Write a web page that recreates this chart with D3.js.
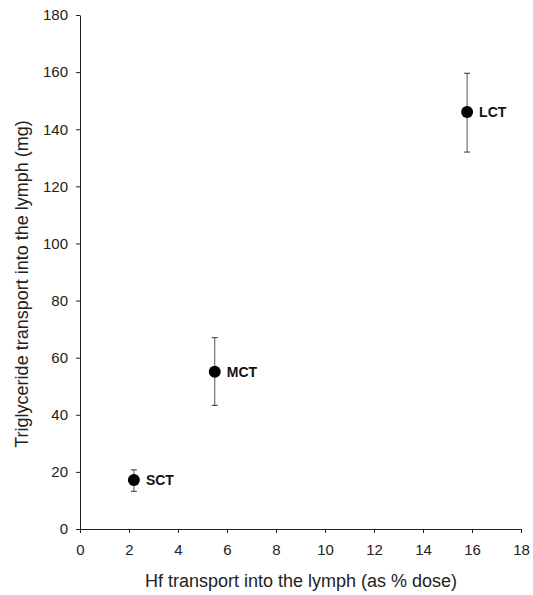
<!DOCTYPE html>
<html lang="en">
<head>
<meta charset="UTF-8">
<title>Triglyceride vs Hf transport</title>
<script src="https://d3js.org/d3.v7.min.js"></script>
<style>
 body {margin: 0; padding: 0; background: #fff;}
 svg {display: block; font-family: "Liberation Sans", Arial, sans-serif;}
 .axis path, .axis line {stroke: #222; stroke-width: 1px;}
 .axis text {font-size: 15px; fill: #222;}
 .label {font-size: 14px; font-weight: bold; fill: #111;}
 .title {font-size: 18px; fill: #222;}
</style>
</head>
<body>
<svg id="chart" width="533" height="595"></svg>
<script>
// values
const groups = ['SCT', 'MCT', 'LCT'];
const hfDose = [2.2, 5.5, 15.8];
const tgMean = [17.2, 55.1, 146];
const tgLow = [13.2, 43.3, 132];
const tgHigh = [20.7, 67, 159.6];
const xTicks = [0, 2, 4, 6, 8, 10, 12, 14, 16, 18];
const yTicks = [0, 20, 40, 60, 80, 100, 120, 140, 160, 180];

const svg = d3.select('#chart');
const x = d3.scaleLinear().domain([0, 18]).range([80, 521]);
const y = d3.scaleLinear().domain([0, 180]).range([529, 15]);

svg.append('g').attr('class', 'axis')
  .attr('transform', 'translate(0,529)')
  .call(d3.axisBottom(x).tickValues(xTicks).tickSize(4).tickSizeOuter(0).tickPadding(11));

svg.append('g').attr('class', 'axis')
  .attr('transform', 'translate(80,0)')
  .call(d3.axisLeft(y).tickValues(yTicks).tickSize(4).tickSizeOuter(0).tickPadding(8));

const pts = groups.map((g, i) => ({g, x: hfDose[i], y: tgMean[i], lo: tgLow[i], hi: tgHigh[i]}));

const pt = svg.append('g').selectAll('g').data(pts).enter().append('g');
pt.append('line')
  .attr('x1', d => x(d.x)).attr('x2', d => x(d.x))
  .attr('y1', d => y(d.lo)).attr('y2', d => y(d.hi))
  .attr('stroke', '#555').attr('stroke-width', 1);
pt.selectAll('.cap').data(d => [d.lo, d.hi].map(v => ({x: d.x, v}))).enter()
  .append('line')
  .attr('x1', d => x(d.x) - 3).attr('x2', d => x(d.x) + 3)
  .attr('y1', d => y(d.v)).attr('y2', d => y(d.v))
  .attr('stroke', '#333').attr('stroke-width', 1);
pt.append('circle')
  .attr('cx', d => x(d.x)).attr('cy', d => y(d.y))
  .attr('r', 6).attr('fill', '#000');
pt.append('text').attr('class', 'label')
  .attr('x', d => x(d.x) + 12).attr('y', d => y(d.y)).attr('dy', '0.36em')
  .text(d => d.g);

svg.append('text').attr('class', 'title')
  .attr('x', 301).attr('y', 587).attr('text-anchor', 'middle')
  .text('Hf transport into the lymph (as % dose)');

svg.append('text').attr('class', 'title')
  .attr('transform', 'translate(28,284) rotate(-90)')
  .attr('text-anchor', 'middle')
  .text('Triglyceride transport into the lymph (mg)');
</script>
</body>
</html>
